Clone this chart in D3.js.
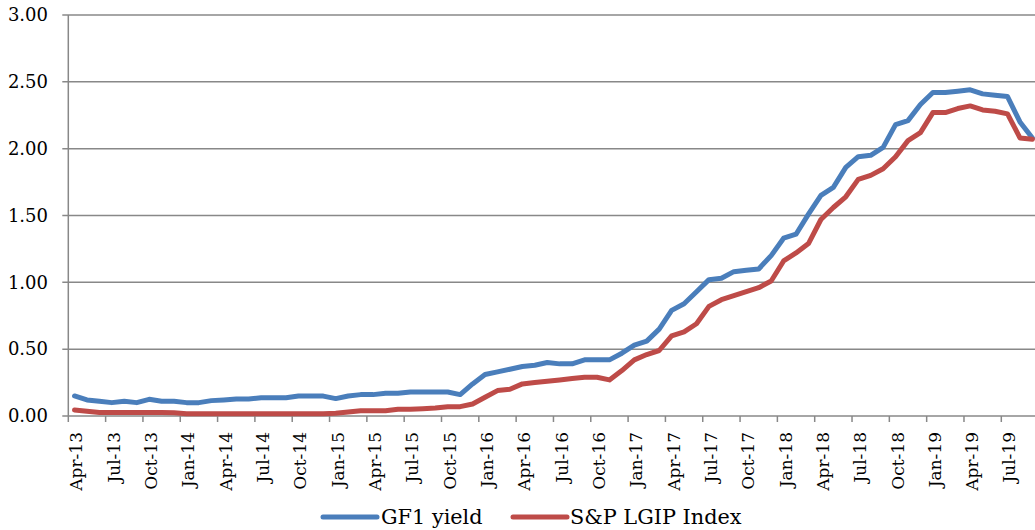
<!DOCTYPE html>
<html><head><meta charset="utf-8">
<script src="https://cdn.jsdelivr.net/npm/d3@7"></script>
<style>body{margin:0;background:#fff}svg{display:block}</style>
</head><body>
<svg id="chart" width="1035" height="530"></svg>
<script>
const months = ["Apr-13","May-13","Jun-13","Jul-13","Aug-13","Sep-13","Oct-13","Nov-13","Dec-13",
"Jan-14","Feb-14","Mar-14","Apr-14","May-14","Jun-14","Jul-14","Aug-14","Sep-14","Oct-14","Nov-14","Dec-14",
"Jan-15","Feb-15","Mar-15","Apr-15","May-15","Jun-15","Jul-15","Aug-15","Sep-15","Oct-15","Nov-15","Dec-15",
"Jan-16","Feb-16","Mar-16","Apr-16","May-16","Jun-16","Jul-16","Aug-16","Sep-16","Oct-16","Nov-16","Dec-16",
"Jan-17","Feb-17","Mar-17","Apr-17","May-17","Jun-17","Jul-17","Aug-17","Sep-17","Oct-17","Nov-17","Dec-17",
"Jan-18","Feb-18","Mar-18","Apr-18","May-18","Jun-18","Jul-18","Aug-18","Sep-18","Oct-18","Nov-18","Dec-18",
"Jan-19","Feb-19","Mar-19","Apr-19","May-19","Jun-19","Jul-19","Aug-19","Sep-19"];

const gf1Yield = [0.15,0.12,0.11,0.10,0.11,0.10,0.125,0.11,0.11,
0.10,0.10,0.115,0.12,0.127,0.127,0.137,0.137,0.137,0.149,0.149,0.149,
0.13,0.15,0.16,0.16,0.17,0.17,0.18,0.18,0.18,0.18,0.16,0.24,
0.31,0.33,0.35,0.37,0.38,0.40,0.39,0.39,0.42,0.42,0.42,0.47,
0.53,0.56,0.65,0.79,0.84,0.93,1.02,1.03,1.08,1.09,1.10,1.20,
1.33,1.36,1.51,1.65,1.71,1.86,1.94,1.95,2.01,2.18,2.21,2.33,
2.42,2.42,2.43,2.44,2.41,2.40,2.39,2.20,2.08];

const lgipIndex = [0.045,0.035,0.027,0.027,0.027,0.027,0.027,0.027,0.025,
0.017,0.017,0.017,0.017,0.017,0.017,0.017,0.017,0.017,0.017,0.017,0.017,
0.02,0.03,0.04,0.04,0.04,0.05,0.05,0.055,0.06,0.07,0.07,0.09,
0.14,0.19,0.20,0.24,0.25,0.26,0.27,0.28,0.29,0.29,0.27,0.34,
0.42,0.46,0.49,0.60,0.63,0.69,0.82,0.87,0.90,0.93,0.96,1.01,
1.16,1.22,1.29,1.47,1.56,1.64,1.77,1.80,1.85,1.94,2.06,2.12,
2.27,2.27,2.30,2.32,2.29,2.28,2.26,2.08,2.07];

const yTicks = [0,0.5,1,1.5,2,2.5,3];
const seriesNames = ["GF1 yield","S&P LGIP Index"];
const seriesColors = ["#4A7EBB","#BE4B48"];

const svg = d3.select("#chart");
const x0 = 68.3, step = 12.44;
const x = d3.scaleBand().domain(months).range([x0, x0 + step*months.length]).paddingInner(0).paddingOuter(0);
const y = d3.scaleLinear().domain([0,3]).range([416,15]);
const font = "'DejaVu Serif',Georgia,serif";
const gridCol = "#888888";

// gridlines
svg.append("g").selectAll("line").data(yTicks).join("line")
  .attr("x1", x0 - 6).attr("x2", 1035)
  .attr("y1", d => y(d)).attr("y2", d => y(d))
  .attr("stroke", gridCol).attr("stroke-width", 1.5);

// y axis line
svg.append("line").attr("x1", x0).attr("x2", x0).attr("y1", y(3)).attr("y2", y(0))
  .attr("stroke", gridCol).attr("stroke-width", 1.5);

// y labels
svg.append("g").selectAll("text").data(yTicks).join("text")
  .attr("x", 48).attr("y", d => y(d)).attr("dy", "0.35em")
  .attr("text-anchor", "end").attr("font-family", font).attr("font-size", 18)
  .attr("fill", "#000").text(d => d3.format(".2f")(d));

// x ticks at boundaries every 3 months
const tickIdx = d3.range(0, months.length + 1, 3);
svg.append("g").selectAll("line").data(tickIdx).join("line")
  .attr("x1", i => x0 + step*i).attr("x2", i => x0 + step*i)
  .attr("y1", y(0)).attr("y2", y(0) + 6)
  .attr("stroke", gridCol).attr("stroke-width", 1.5);

// x labels
const labelIdx = d3.range(0, months.length, 3);
svg.append("g").selectAll("text").data(labelIdx).join("text")
  .attr("transform", i => `translate(${x(months[i]) + x.bandwidth()/2 + 2},432) rotate(-90)`)
  .attr("dy", "0.35em").attr("text-anchor", "end")
  .attr("font-family", font).attr("font-size", 17).attr("fill", "#000")
  .text(i => months[i]);

// lines
const line = d3.line().x((d,i) => x(months[i]) + x.bandwidth()/2).y(d => y(d));
[gf1Yield, lgipIndex].forEach((s, k) => {
  svg.append("path").datum(s).attr("d", line)
    .attr("fill", "none").attr("stroke", seriesColors[k]).attr("stroke-width", 5)
    .attr("stroke-linejoin", "round").attr("stroke-linecap", "round");
});

// legend
const legendPos = [{lx: 323, tx: 381}, {lx: 513, tx: 570}];
seriesNames.forEach((n, k) => {
  const g = svg.append("g");
  g.append("line").attr("x1", legendPos[k].lx).attr("x2", legendPos[k].lx + 54)
    .attr("y1", 517).attr("y2", 517).attr("stroke", seriesColors[k]).attr("stroke-width", 5)
    .attr("stroke-linecap", "round");
  g.append("text").attr("x", legendPos[k].tx).attr("y", 517).attr("dy", "0.35em")
    .attr("font-family", font).attr("font-size", 20.8).attr("fill", "#000").text(n);
});
</script>
</body></html>
